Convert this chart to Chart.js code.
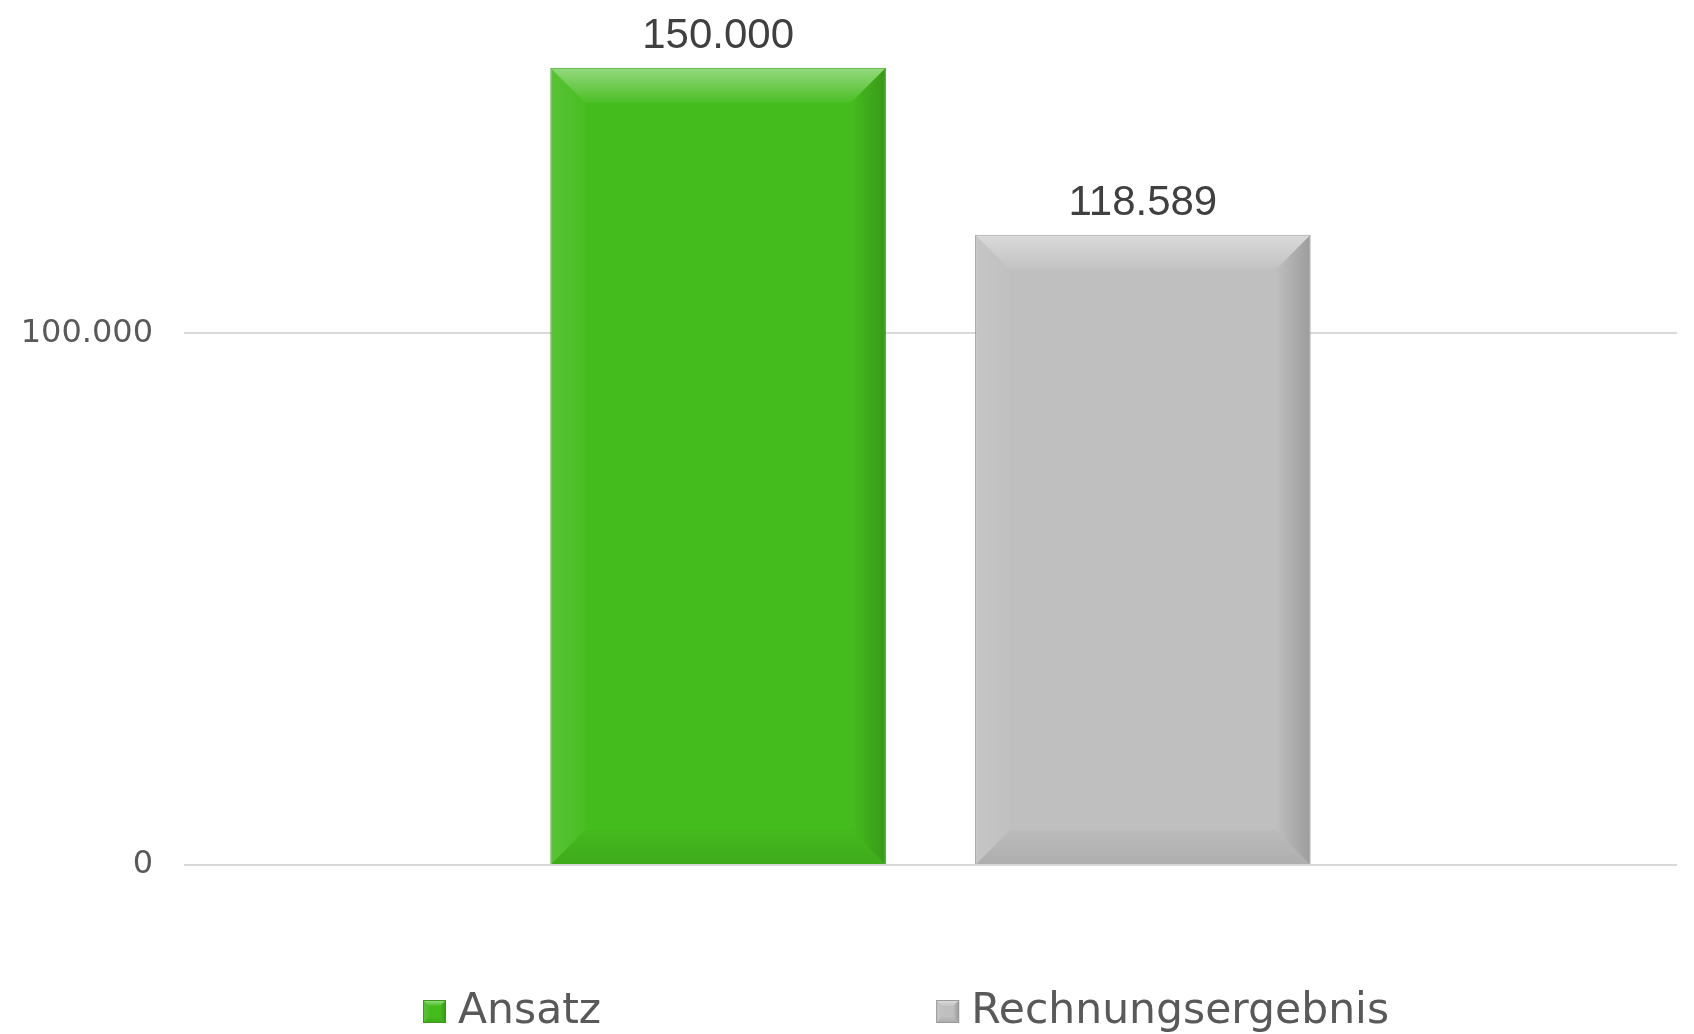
<!DOCTYPE html>
<html>
<head>
<meta charset="utf-8">
<script src="https://cdn.jsdelivr.net/npm/chart.js@4.4.0/dist/chart.umd.min.js"></script>
<style>
  html, body { margin: 0; padding: 0; background: #fff; }
  #wrap { width: 1694px; height: 1034px; }
</style>
</head>
<body>
<div id="wrap"><canvas id="chart" width="1694" height="1034"></canvas></div>
<script>
const categories = [''];
const seriesNames = ['Ansatz', 'Rechnungsergebnis'];
const ansatzValues = [150000];
const ergebnisValues = [118589];
const yTickValues = [0, 100000];

function fmt(v){
  return String(Math.round(v)).replace(/\B(?=(\d{3})+(?!\d))/g, '.');
}

// bevelled look, drawn on top of a rectangle
function drawBevel(ctx, l, t, r, b, bev){
  ctx.save();
  var g;
  // top
  g = ctx.createLinearGradient(0, t, 0, t + bev);
  g.addColorStop(0, 'rgba(255,255,255,0.42)');
  g.addColorStop(1, 'rgba(255,255,255,0.04)');
  ctx.fillStyle = g;
  ctx.beginPath();
  ctx.moveTo(l, t); ctx.lineTo(r, t); ctx.lineTo(r - bev, t + bev); ctx.lineTo(l + bev, t + bev);
  ctx.closePath(); ctx.fill();
  // left
  g = ctx.createLinearGradient(l, 0, l + bev, 0);
  g.addColorStop(0, 'rgba(255,255,255,0.10)');
  g.addColorStop(1, 'rgba(255,255,255,0.02)');
  ctx.fillStyle = g;
  ctx.beginPath();
  ctx.moveTo(l, t); ctx.lineTo(l + bev, t + bev); ctx.lineTo(l + bev, b - bev); ctx.lineTo(l, b);
  ctx.closePath(); ctx.fill();
  // right
  g = ctx.createLinearGradient(r - bev, 0, r, 0);
  g.addColorStop(0, 'rgba(0,0,0,0.0)');
  g.addColorStop(1, 'rgba(0,0,0,0.18)');
  ctx.fillStyle = g;
  ctx.beginPath();
  ctx.moveTo(r, t); ctx.lineTo(r, b); ctx.lineTo(r - bev, b - bev); ctx.lineTo(r - bev, t + bev);
  ctx.closePath(); ctx.fill();
  // bottom
  g = ctx.createLinearGradient(0, b - bev, 0, b);
  g.addColorStop(0, 'rgba(0,0,0,0.02)');
  g.addColorStop(1, 'rgba(0,0,0,0.09)');
  ctx.fillStyle = g;
  ctx.beginPath();
  ctx.moveTo(l, b); ctx.lineTo(l + bev, b - bev); ctx.lineTo(r - bev, b - bev); ctx.lineTo(r, b);
  ctx.closePath(); ctx.fill();
  ctx.restore();
}

const bevelPlugin = {
  id: 'bevel',
  afterDatasetsDraw(chart){
    const ctx = chart.ctx;
    chart.data.datasets.forEach(function(ds, i){
      chart.getDatasetMeta(i).data.forEach(function(el){
        const p = el.getProps(['x', 'y', 'base', 'width'], true);
        const l = p.x - p.width / 2, r = p.x + p.width / 2;
        drawBevel(ctx, l + 1, p.y + 1, r - 1, p.base, 34);
      });
    });
  }
};

const valueLabels = {
  id: 'valueLabels',
  afterDatasetsDraw(chart){
    const ctx = chart.ctx;
    ctx.save();
    ctx.font = '42px "Liberation Sans", Arial, sans-serif';
    ctx.fillStyle = '#404040';
    ctx.textAlign = 'center';
    ctx.textBaseline = 'alphabetic';
    chart.data.datasets.forEach(function(ds, i){
      chart.getDatasetMeta(i).data.forEach(function(el, j){
        ctx.fillText(fmt(ds.data[j]), el.x, el.y - 20);
      });
    });
    ctx.restore();
  }
};

const bottomLegend = {
  id: 'bottomLegend',
  afterDraw(chart){
    const ctx = chart.ctx;
    ctx.save();
    ctx.font = '42.5px "DejaVu Sans", Verdana, sans-serif';
    ctx.textBaseline = 'middle';
    ctx.textAlign = 'left';
    let x = 423;
    const cy = 1011;
    chart.data.datasets.forEach(function(ds){
      ctx.fillStyle = ds.backgroundColor;
      ctx.fillRect(x, cy - 11, 23, 23);
      ctx.strokeStyle = ds.borderColor;
      ctx.lineWidth = 1;
      ctx.strokeRect(x + 0.5, cy - 10.5, 22, 22);
      drawBevel(ctx, x + 1, cy - 10, x + 22, cy + 11, 5);
      ctx.fillStyle = '#595959';
      ctx.fillText(ds.label, x + 35, cy + 1);
      x += 35 + ctx.measureText(ds.label).width + 335;
    });
    ctx.restore();
  }
};

new Chart(document.getElementById('chart'), {
  type: 'bar',
  data: {
    labels: categories,
    datasets: [
      {
        label: seriesNames[0],
        data: ansatzValues,
        backgroundColor: '#45bc1e',
        borderColor: '#3a9a18',
        borderWidth: 1,
        categoryPercentage: 0.569,
        barPercentage: 0.79
      },
      {
        label: seriesNames[1],
        data: ergebnisValues,
        backgroundColor: '#bfbfbf',
        borderColor: '#9a9a9a',
        borderWidth: 1,
        categoryPercentage: 0.569,
        barPercentage: 0.79
      }
    ]
  },
  options: {
    responsive: false,
    animation: false,
    layout: { padding: { top: 16, right: 17, bottom: 169, left: 0 } },
    plugins: {
      legend: { display: false },
      tooltip: { enabled: false }
    },
    scales: {
      x: { display: false },
      y: {
        min: 0,
        max: 153300,
        afterBuildTicks: function(scale){
          scale.ticks = yTickValues.map(function(v){ return { value: v }; });
        },
        afterFit: function(scale){ scale.width = 184; },
        border: { display: false },
        grid: { color: '#d9d9d9', lineWidth: 2, drawTicks: false },
        ticks: {
          padding: 31,
          color: '#595959',
          font: { family: '"DejaVu Sans", Verdana, sans-serif', size: 32 },
          callback: function(v){ return fmt(v); }
        }
      }
    }
  },
  plugins: [bevelPlugin, valueLabels, bottomLegend]
});
</script>
</body>
</html>
